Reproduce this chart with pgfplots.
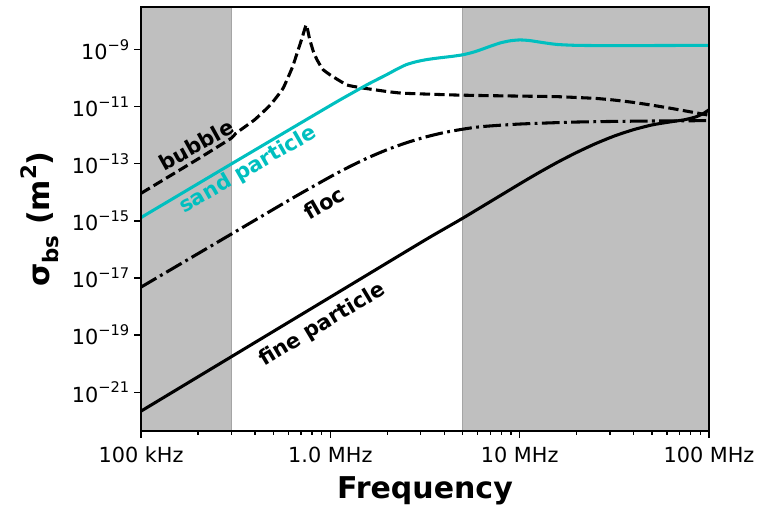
\documentclass[border=0pt]{standalone}
\usepackage{fontspec}
\setmainfont{DejaVu Sans}
\usepackage{pgfplots}
\pgfplotsset{compat=1.18}
\definecolor{shade}{RGB}{191,191,191}
\definecolor{shadeedge}{RGB}{165,165,165}
\definecolor{sandc}{RGB}{0,191,191}
\newcommand{\sups}[1]{\raisebox{0.45em}{\fontsize{11pt}{12pt}\selectfont #1}}
\begin{document}
\begin{tikzpicture}
\path[use as bounding box] (-105.75pt,-56.25pt) rectangle (471pt,323.25pt);
\begin{axis}[
  scale only axis, width=426pt, height=318pt,
  at={(0pt,0pt)}, anchor=south west,
  xmode=log, ymode=log,
  xmin=1e5, xmax=1e8, ymin=4.3e-23, ymax=3.2e-8,
  xtick={1e5,1e6,1e7,1e8},
  xticklabels={100 kHz, 1.0 MHz, 10 MHz, 100 MHz},
  minor xtick={2e5,3e5,4e5,5e5,6e5,7e5,8e5,9e5,2e6,3e6,4e6,5e6,6e6,7e6,8e6,9e6,2e7,3e7,4e7,5e7,6e7,7e7,8e7,9e7},
  ytick={1e-21,1e-19,1e-17,1e-15,1e-13,1e-11,1e-9},
  yticklabels={10\sups{−21},10\sups{−19},10\sups{−17},10\sups{−15},10\sups{−13},10\sups{−11},10\sups{−9}},
  yminorticks=false,
  tick align=outside, xtick pos=bottom, ytick pos=left,
  major tick length=5.25pt, minor tick length=3pt,
  tick style={black, line width=0.8pt},
  axis line style={line width=1pt},
  tick label style={font=\fontsize{15.6pt}{18pt}\selectfont},
  xticklabel style={yshift=-3pt},
  xlabel={Frequency},
  ylabel={σ\raisebox{-0.3em}{\fontsize{16pt}{16pt}\selectfont bs}\hspace{0.35em}(m\raisebox{0.45em}{\fontsize{16pt}{16pt}\selectfont 2})},
  label style={font=\bfseries\fontsize{22.5pt}{26pt}\selectfont},
  xlabel style={at={(axis description cs:0.5,-0.14)}, anchor=center},
  ylabel style={at={(axis description cs:-0.178,0.5)}, anchor=center},
  axis on top,
]
% shaded bands
\addplot[fill=shade, draw=shadeedge, line width=0.8pt] coordinates {(1e5,4.3e-23) (3e5,4.3e-23) (3e5,3.2e-8) (1e5,3.2e-8)} -- cycle;
\addplot[fill=shade, draw=shadeedge, line width=0.8pt] coordinates {(5e6,4.3e-23) (1e8,4.3e-23) (1e8,3.2e-8) (5e6,3.2e-8)} -- cycle;

% fine particle
\addplot[black, line width=2.3pt, smooth, tension=0.4] coordinates {
(1e5,2.138e-22) (1e6,2.138e-18) (3.162e6,2.138e-16) (5.012e6,1.259e-15) (1e7,1.995e-14)
(1.259e7,4.898e-14) (1.585e7,1.148e-13) (1.995e7,2.512e-13) (2.512e7,5.129e-13) (3.162e7,9.550e-13)
(3.981e7,1.585e-12) (5.012e7,2.344e-12) (6.310e7,3.020e-12) (7.413e7,3.548e-12) (8.511e7,4.467e-12)
(9.333e7,5.888e-12) (1e8,7.943e-12)};

% floc
\addplot[black, line width=2.3pt, dash pattern=on 13.3pt off 3.3pt on 2.1pt off 3.3pt, smooth, tension=0.4] coordinates {
(1e5,4.786e-18) (3.162e5,4.266e-16) (6.310e5,6.310e-15) (1e6,3.548e-14) (1.259e6,7.943e-14)
(1.585e6,1.660e-13) (1.995e6,3.162e-13) (2.512e6,5.495e-13) (3.162e6,8.710e-13) (3.981e6,1.259e-12)
(5.012e6,1.660e-12) (6.310e6,2.042e-12) (1e7,2.512e-12) (1.995e7,2.951e-12) (3.981e7,3.162e-12)
(1e8,3.311e-12)};

% bubble
\addplot[black, line width=2.3pt, dash pattern=on 7.7pt off 3.3pt, smooth, tension=0.25] coordinates {
(1e5,9.33e-15) (1.995e5,1.479e-13) (2.992e5,7.94e-13) (3.162e5,1.175e-12) (3.981e5,3.548e-12)
(4.819e5,1.175e-11) (5.623e5,4.467e-11) (6.310e5,2.512e-10) (6.761e5,1e-9) (7.079e5,2.512e-9)
(7.464e5,7.586e-9) (7.762e5,2.512e-9) (8.128e5,8.913e-10) (8.511e5,4.467e-10) (9.120e5,2.089e-10)
(1e6,1.318e-10) (1.225e6,5.888e-11) (1.496e6,4.571e-11) (1.995e6,3.467e-11) (2.432e6,3.020e-11)
(4.467e6,2.630e-11) (6.310e6,2.512e-11) (1e7,2.399e-11) (1.585e7,2.291e-11) (2.512e7,1.995e-11)
(3.162e7,1.738e-11) (3.981e7,1.445e-11) (5.012e7,1.148e-11) (6.310e7,8.913e-12) (7.943e7,6.761e-12)
(1e8,5.129e-12)};

% sand particle
\addplot[sandc, line width=2.3pt, smooth, tension=0.4] coordinates {
(1e5,1.318e-15) (3.162e5,1.230e-13) (1e6,1.122e-11) (1.259e6,2.692e-11) (1.585e6,6.310e-11)
(1.995e6,1.380e-10) (2.239e6,2.089e-10) (2.512e6,3.020e-10) (2.818e6,3.802e-10) (3.162e6,4.467e-10)
(3.548e6,5.012e-10) (3.981e6,5.495e-10) (4.467e6,6.026e-10) (5.012e6,6.761e-10)
(5.623e6,8.128e-10) (6.310e6,1.047e-9) (7.079e6,1.380e-9) (7.943e6,1.778e-9) (8.913e6,2.089e-9)
(1e7,2.239e-9) (1.122e7,2.138e-9) (1.259e7,1.905e-9) (1.413e7,1.698e-9) (1.585e7,1.549e-9)
(1.995e7,1.445e-9) (3.162e7,1.413e-9) (1e8,1.445e-9)};

\node[rotate=29, font=\bfseries\fontsize{15.75pt}{18pt}\selectfont, text=black] at (axis cs:1.955e5,4.68e-13) {bubble};
\node[rotate=30, font=\bfseries\fontsize{15.75pt}{18pt}\selectfont, text=sandc] at (axis cs:3.68e5,6.17e-14) {sand particle};
\node[rotate=30, font=\bfseries\fontsize{15.75pt}{18pt}\selectfont, text=black] at (axis cs:9.29e5,4.27e-15) {floc};
\node[rotate=31, font=\bfseries\fontsize{15.75pt}{18pt}\selectfont, text=black] at (axis cs:9.08e5,2.24e-19) {fine particle};
\end{axis}
\end{tikzpicture}
\end{document}
